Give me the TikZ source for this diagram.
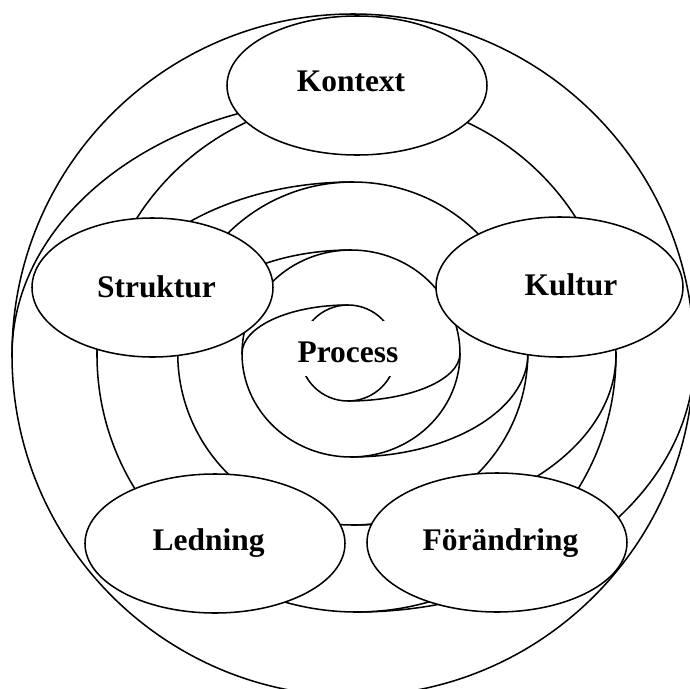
\documentclass[tikz,border=0pt]{standalone}
\usepackage{fontspec}
\setmainfont{Liberation Serif}
\usetikzlibrary{shapes.geometric}
\begin{document}
\begin{tikzpicture}[x=0.75pt,y=-0.75pt,
  line width=1.15pt,
  spiral/.style={draw=black},
  blob/.style={ellipse, draw=black, fill=white, inner sep=0pt, outer sep=0pt},
  lbl/.style={anchor=base, inner sep=0pt, font=\fontsize{23.6}{28}\selectfont\bfseries}]
\useasboundingbox (0,0) rectangle (690,689);
\clip (0,0) rectangle (690,689);
% rings
\draw[spiral] (348,353) ellipse [x radius=48, y radius=48];
\draw[spiral] (351,353.5) ellipse [x radius=109, y radius=103.5];
\draw[spiral] (352.75,353.5) ellipse [x radius=175, y radius=171.5];
\draw[spiral] (356.5,355) ellipse [x radius=259.5, y radius=257];
\draw[spiral] (353,355) ellipse [x radius=341, y radius=341];
% connecting quarters (top -> left of next ring)
\draw[spiral] (348,305) arc[start angle=270, end angle=180, x radius=106, y radius=48.5];
\draw[spiral] (351,250) arc[start angle=270, end angle=180, x radius=173.5, y radius=103.5];
\draw[spiral] (352.75,182) arc[start angle=270, end angle=180, x radius=255.75, y radius=173];
\draw[spiral] (356.5,98) arc[start angle=270, end angle=180, x radius=344.5, y radius=257];
% connecting quarters (bottom -> right of next ring)
\draw[spiral] (348,401) arc[start angle=90, end angle=0, x radius=112, y radius=47.5];
\draw[spiral] (351,457) arc[start angle=90, end angle=0, x radius=177, y radius=103.5];
\draw[spiral] (352.75,525) arc[start angle=90, end angle=0, x radius=263.25, y radius=170];
\draw[spiral] (356.5,612) arc[start angle=90, end angle=0, x radius=338, y radius=257];
% centre text box
\fill[white] (292,321) rectangle (404,376);
\node[lbl] (process) at (348,362) {Process};
% ellipses
\node[blob, minimum width=195pt, minimum height=104.25pt] (kontext) at (357,85.5) {};
\node[blob, minimum width=180.75pt, minimum height=104.25pt] (struktur) at (152.5,287.5) {};
\node[blob, minimum width=185.25pt, minimum height=105pt] (kultur) at (559.5,287) {};
\node[blob, minimum width=195pt, minimum height=104.25pt] (ledning) at (215,543.5) {};
\node[blob, minimum width=195pt, minimum height=104.25pt] (forandring) at (497,542.5) {};
% labels
\node[lbl] (kontextT) at (351,91) {Kontext};
\node[lbl] (strukturT) at (156.5,297) {Struktur};
\node[lbl] (kulturT) at (571,295) {Kultur};
\node[lbl] (ledningT) at (208.7,550.7) {Ledning};
\node[lbl] (forandringT) at (500.5,550) {Förändring};
\end{tikzpicture}
\end{document}
